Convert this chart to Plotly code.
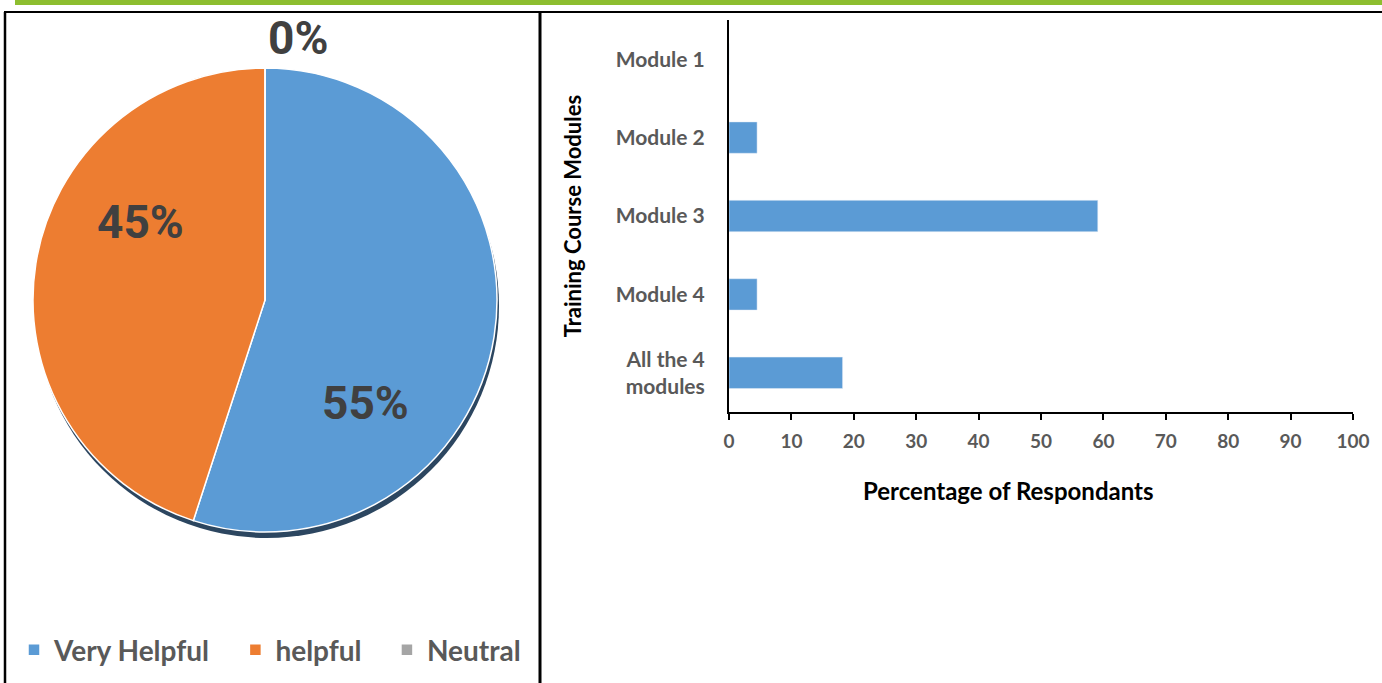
import plotly.graph_objects as go

W, H = 1382, 683

# ---- data ----
pie_labels = ["Very Helpful", "helpful", "Neutral"]
pie_values = [55, 45, 0]
pie_colors = ["#5B9BD5", "#ED7D31", "#A5A5A5"]

modules = ["Module 1", "Module 2", "Module 3", "Module 4", "All the 4<br>modules"]
respondents_pct = [0, 4.5, 59.1, 4.5, 18.2]
x_ticks = [0, 10, 20, 30, 40, 50, 60, 70, 80, 90, 100]
x_title = "Percentage of Respondants"
y_title = "Training Course Modules"


def px(x):
    return x / W


def py(y):
    return 1 - y / H


fig = go.Figure()

# pie geometry (pixels)
cx, cy, r = 265, 300, 232

# legend entries padded so the items spread like the original legend
legend_pad = [3, 3, 0]
legend_labels = [lab + "\u00a0" * n for lab, n in zip(pie_labels, legend_pad)]

fig.add_trace(go.Pie(
    labels=legend_labels,
    values=pie_values,
    marker=dict(colors=pie_colors, line=dict(color="white", width=1.5)),
    sort=False,
    direction="clockwise",
    rotation=0,
    textinfo="none",
    hoverinfo="label+percent",
    domain=dict(x=[px(cx - r), px(cx + r)], y=[py(cy + r), py(cy - r)]),
    showlegend=True,
))

fig.add_trace(go.Bar(
    y=modules,
    x=respondents_pct,
    orientation="h",
    marker=dict(color="#5B9BD5"),
    xaxis="x", yaxis="y",
    showlegend=False,
))

# percentage labels for the pie, text from data
label_pos = [(365, 403), (140, 222), (298, 38)]
annotations = []
for v, (lx, ly) in zip(pie_values, label_pos):
    annotations.append(dict(
        x=px(lx), y=py(ly), xref="paper", yref="paper",
        text=f"{v}%", showarrow=False, xanchor="center", yanchor="middle",
        font=dict(family="Roboto", size=46, color="#404040", weight="bold"),
    ))

# x-axis title (sits a little left of the axis centre in the original)
annotations.append(dict(
    x=px(1008), y=py(490), xref="paper", yref="paper",
    text=x_title, showarrow=False, xanchor="center", yanchor="middle",
    font=dict(family="Lato", size=24, color="black", weight="bold"),
))

shapes = [
    # green band on top
    dict(type="rect", xref="paper", yref="paper", x0=px(15), x1=1, y0=py(5), y1=1,
         fillcolor="#8DBE2F", line=dict(width=0), layer="above"),
    # table borders
    dict(type="line", xref="paper", yref="paper", x0=px(4), x1=1, y0=py(12), y1=py(12),
         line=dict(color="black", width=2), layer="above"),
    dict(type="line", xref="paper", yref="paper", x0=px(5), x1=px(5), y0=0, y1=py(12),
         line=dict(color="black", width=2.5), layer="above"),
    dict(type="line", xref="paper", yref="paper", x0=px(540), x1=px(540), y0=0, y1=py(12),
         line=dict(color="black", width=3), layer="above"),
    # pie shadow
    dict(type="circle", xref="paper", yref="paper",
         x0=px(cx - r + 2), x1=px(cx + r + 2), y0=py(cy + r + 6), y1=py(cy - r + 6),
         fillcolor="#2C4660", line=dict(width=0), layer="below"),
]

tick_font = dict(family="Lato", size=21, color="#595959", weight="bold")

fig.update_layout(
    width=W, height=H,
    margin=dict(l=0, r=0, t=0, b=0, pad=0),
    paper_bgcolor="white", plot_bgcolor="white",
    shapes=shapes,
    annotations=annotations,
    bargap=0.6,
    legend=dict(
        orientation="h",
        x=px(14), y=py(650), xanchor="left", yanchor="middle",
        font=dict(family="Lato", size=28, color="#595959", weight="bold"),
        bgcolor="rgba(0,0,0,0)",
    ),
    xaxis=dict(
        domain=[px(729), px(1353)], range=[0, 100], tickvals=x_ticks,
        showline=True, linecolor="black", linewidth=2,
        ticks="outside", ticklen=6, tickwidth=2, tickcolor="black",
        showgrid=False, zeroline=False, automargin=False,
        tickfont=dict(family="Lato", size=19, color="#595959", weight="bold"),
        ticklabelstandoff=5,
        anchor="y",
    ),
    yaxis=dict(
        domain=[py(412), py(20)], autorange="reversed",
        showline=True, linecolor="black", linewidth=2,
        ticks="", showgrid=False, zeroline=False, automargin=False,
        tickfont=tick_font, ticklabelstandoff=18,
        title=dict(text=y_title, standoff=28,
                   font=dict(family="Lato", size=22, color="black", weight="bold")),
        anchor="x",
    ),
)

fig.write_html("out.html")
